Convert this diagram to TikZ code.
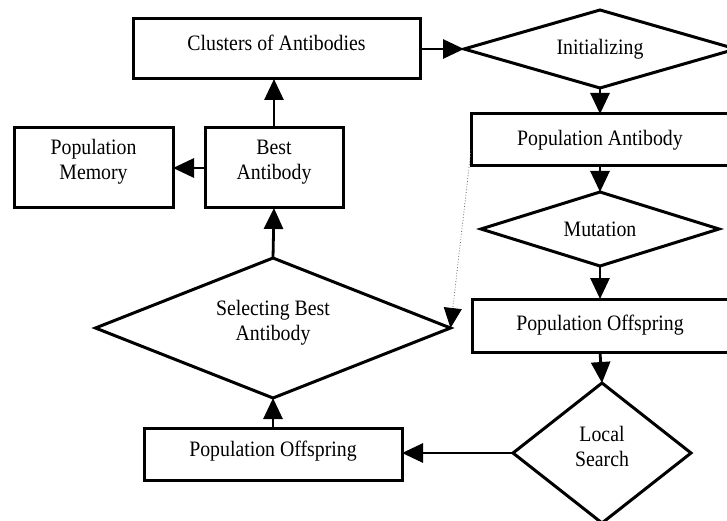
\documentclass[tikz,border=0pt]{standalone}
\usepackage{fontspec}
\setmainfont{Liberation Serif}[FakeStretch=0.9]
\usetikzlibrary{shapes.geometric,arrows.meta,calc}
\begin{document}
\begin{tikzpicture}[x=1pt,y=-1pt,
  every node/.style={font=\fontsize{22}{25}\selectfont, align=center, inner sep=0pt, outer sep=0pt},
  box/.style={draw, line width=3pt, rectangle},
  dia/.style={draw, line width=3pt, diamond},
  arr/.style={line width=2.8pt, -{Triangle[length=21pt,width=19pt]}},
  dotarr/.style={line width=0.8pt, black!60, dotted, -{Triangle[length=20pt,width=18pt,fill=black,color=black]}}]
\useasboundingbox (0,0) rectangle (727,521);
\clip (0,0) rectangle (727,521);
% boxes
\node[box, minimum width=287pt, minimum height=60pt, text height=15pt, text depth=12pt] (clusters) at (276.5,49) {Clusters of Antibodies};
\node[box, minimum width=258pt, minimum height=52pt] (popab) at (600,140) {Population Antibody};
\node[box, minimum width=256pt, minimum height=53pt] (popoff1) at (600,325.5) {Population Offspring};
\node[box, minimum width=258pt, minimum height=52pt, text height=15pt, text depth=10pt] (popoff2) at (273,454) {Population Offspring};
\node[box, minimum width=138pt, minimum height=80pt, text depth=17pt] (best) at (274,168) {Best\\Antibody};
\node[box, minimum width=159pt, minimum height=80pt, text depth=17pt] (memory) at (93.5,168) {Population\\Memory};
% diamonds
\node[dia, aspect=3.5, minimum width=272pt, minimum height=78pt] (init) at (600,49) {Initializing};
\node[dia, aspect=3.2, minimum width=238pt, minimum height=74pt] (mutation) at (600,229) {Mutation};
\node[dia, aspect=1.27, minimum width=178pt, minimum height=140pt, text depth=14pt] (local) at (602,453) {Local\\Search};
\node[dia, aspect=2.5, minimum width=355pt, minimum height=140pt, text depth=15pt] (select) at (273,328) {Selecting Best\\Antibody};
% connectors
\draw[arr] (clusters.east) -- (init.west);
\draw[arr] (init.south) -- (popab.north);
\draw[arr] (popab.south) -- (mutation.north);
\draw[arr] (mutation.south) -- (popoff1.north);
\draw[arr] (popoff1.south) -- (local.north);
\draw[arr] (local.west) -- (popoff2.east |- local.west);
\draw[arr] (popoff2.north) -- (select.south);
\draw[arr] (select.north) -- (best.south);
\draw[arr] (best.north) -- (best.north |- clusters.south);
\draw[arr] (best.west) -- (memory.east);
\coordinate (dotstart) at ($(popab.south west)!0.3!(popab.north west)$);
\draw[dotarr] (dotstart) -- (select.east);
\end{tikzpicture}
\end{document}
